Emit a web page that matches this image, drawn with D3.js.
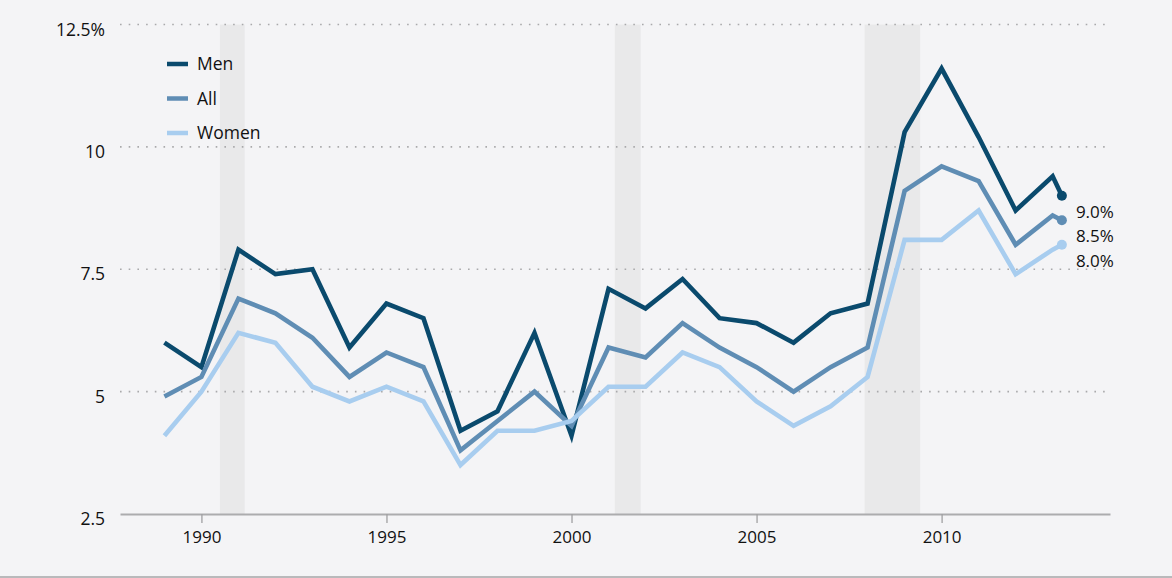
<!DOCTYPE html>
<html><head><meta charset="utf-8">
<script src="https://cdn.jsdelivr.net/npm/d3@7"></script>
<style>
html,body{margin:0;padding:0;background:#f4f4f6;}
svg{display:block;}
text{font-family:"Open Sans","Noto Sans",sans-serif;fill:#111;}
</style></head>
<body>
<script>
const years = [1989,1990,1991,1992,1993,1994,1995,1996,1997,1998,1999,2000,2001,2002,2003,2004,2005,2006,2007,2008,2009,2010,2011,2012,2013,2013.25];
const men   = [6.0,5.5,7.9,7.4,7.5,5.9,6.8,6.5,4.2,4.6,6.2,4.1,7.1,6.7,7.3,6.5,6.4,6.0,6.6,6.8,10.3,11.6,10.2,8.7,9.4,9.0];
const all   = [4.9,5.3,6.9,6.6,6.1,5.3,5.8,5.5,3.8,4.4,5.0,4.3,5.9,5.7,6.4,5.9,5.5,5.0,5.5,5.9,9.1,9.6,9.3,8.0,8.6,8.5];
const women = [4.1,5.0,6.2,6.0,5.1,4.8,5.1,4.8,3.5,4.2,4.2,4.4,5.1,5.1,5.8,5.5,4.8,4.3,4.7,5.3,8.1,8.1,8.7,7.4,7.9,8.0];
const seriesNames = ["Men","All","Women"];
const seriesColors = ["#0a4a6d","#5f8db4","#a8cdef"];
const recessionStart = [1990.5, 2001.17, 2007.92];
const recessionEnd   = [1991.17, 2001.87, 2009.42];
const xTicks = [1990,1995,2000,2005,2010];
const yTicks = [2.5,5,7.5,10,12.5];
const yTickLabels = ["2.5","5","7.5","10","12.5%"];

const W = 1172, H = 578;
const svg = d3.select("body").append("svg").attr("width",W).attr("height",H);
svg.append("rect").attr("width",W).attr("height",H).attr("fill","#f4f4f6");
svg.append("line").attr("x1",0).attr("x2",W).attr("y1",H-1).attr("y2",H-1)
  .attr("stroke","#b9b9bb").attr("stroke-width",2);

const x = d3.scaleLinear().domain([1987.8, 2014.55]).range([120,1110]);
const y = d3.scaleLinear().domain([2.5,12.5]).range([514,24.5]);

// recession bands
svg.append("g").selectAll("rect").data(recessionStart).join("rect")
  .attr("x",(d)=>x(d)).attr("width",(d,i)=>x(recessionEnd[i])-x(d))
  .attr("y",y(12.5)).attr("height",y(2.5)-y(12.5))
  .attr("fill","#e9e9ea");

// grid
svg.append("g").selectAll("line").data(yTicks.filter(v=>v>2.5)).join("line")
  .attr("x1",x.range()[0]).attr("x2",x.range()[1])
  .attr("y1",d=>y(d)).attr("y2",d=>y(d))
  .attr("stroke","#a9a9ab").attr("stroke-width",1.6).attr("stroke-dasharray","1.6,7.1");

// x axis
const xAxis = svg.append("g").attr("transform",`translate(0,${y(2.5)})`)
  .call(d3.axisBottom(x).tickValues(xTicks).tickFormat(d3.format("d")).tickSize(9).tickSizeOuter(0).tickPadding(8));
xAxis.select(".domain").attr("stroke","#acacae").attr("stroke-width",2.2);
xAxis.selectAll(".tick line").attr("stroke","#a0a0a2").attr("stroke-width",1.3);
xAxis.selectAll(".tick text").attr("font-size",17).attr("font-family","'Open Sans',sans-serif").attr("fill","#111");

// y axis labels
const yAxis = svg.append("g").attr("transform",`translate(105,5)`)
  .call(d3.axisLeft(y).tickValues(yTicks).tickFormat((d)=>yTickLabels[yTicks.indexOf(d)]).tickSize(0).tickPadding(0));
yAxis.select(".domain").remove();
yAxis.selectAll(".tick text").attr("font-size",17.5).attr("font-family","'Open Sans',sans-serif").attr("fill","#111");

// lines
const data = [men, all, women];
const line = d3.line().x((d,i)=>x(years[i])).y(d=>y(d));
const g = svg.append("g");
data.forEach((vals,k)=>{
  g.append("path").datum(vals).attr("d",line).attr("fill","none")
    .attr("stroke",seriesColors[k]).attr("stroke-width",4.6)
    .attr("stroke-linejoin","miter").attr("stroke-linecap","butt");
});
[2,1,0].forEach(k=>{
  const n = years.length-1;
  svg.append("circle").attr("cx",x(years[n])).attr("cy",y(data[k][n])).attr("r",5)
    .attr("fill",seriesColors[k]);
});
[0,1,2].forEach(k=>{
  const n = years.length-1;
  svg.append("text").attr("x",x(years[n])+14).attr("y",y(data[k][n])+16)
    .attr("dy","0.35em").attr("font-size",17).text(data[k][n].toFixed(1)+"%");
});

// legend
const legend = svg.append("g").attr("transform","translate(167,64)");
seriesNames.forEach((name,k)=>{
  const gy = k*34.5;
  legend.append("line").attr("x1",0).attr("x2",21).attr("y1",gy).attr("y2",gy)
    .attr("stroke",seriesColors[k]).attr("stroke-width",4.5);
  legend.append("text").attr("x",30).attr("y",gy).attr("dy","0.37em")
    .attr("font-size",17.5).text(name);
});
</script>
</body></html>
